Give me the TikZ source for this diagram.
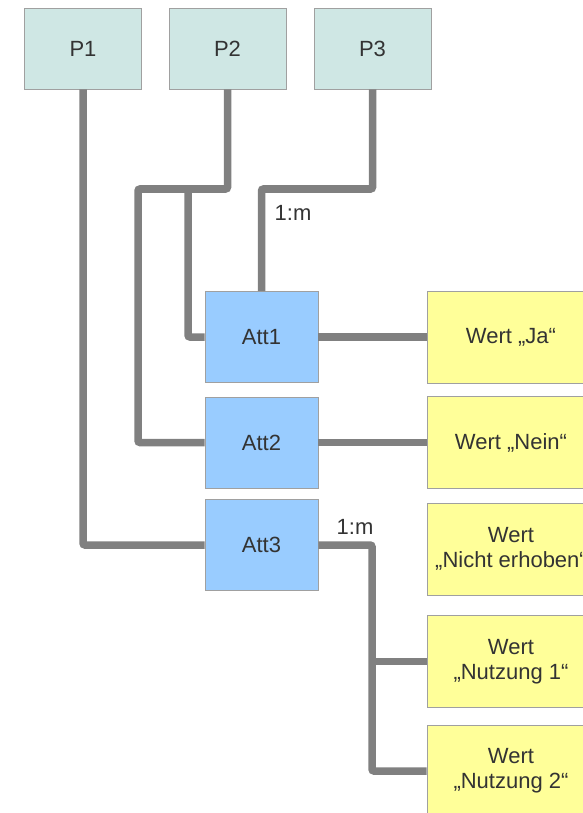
\documentclass[tikz,border=0pt]{standalone}
\usepackage{fontspec}
\setmainfont{Liberation Sans}
\definecolor{pfill}{HTML}{CFE7E4}
\definecolor{attfill}{HTML}{99CCFF}
\definecolor{wertfill}{HTML}{FFFF99}
\definecolor{rand}{HTML}{A0A0A0}
\definecolor{linie}{HTML}{808080}
\definecolor{schrift}{HTML}{333333}
\begin{document}
\begin{tikzpicture}[x=1pt,y=-1pt,
  font=\fontsize{22}{25}\selectfont,text=schrift,
  box/.style={draw=rand,line width=0.9pt,inner sep=0pt,align=center},
  pbox/.style={box,fill=pfill,minimum width=117pt,minimum height=81pt},
  attbox/.style={box,fill=attfill,minimum width=113pt,minimum height=91pt},
  wertbox/.style={box,fill=wertfill,minimum width=168pt,minimum height=92pt},
  conn/.style={draw=linie,line width=7.5pt,rounded corners=2pt},
  lbl/.style={inner sep=0pt}]
\useasboundingbox (0,0) rectangle (583,813);

\node[pbox] (p1) at (83,48.5) {P1};
\node[pbox] (p2) at (227.5,48.5) {P2};
\node[pbox] (p3) at (372.5,48.5) {P3};

\node[attbox] (att1) at (261.5,337) {Att1};
\node[attbox] (att2) at (261.5,442.5) {Att2};
\node[attbox] (att3) at (261.5,545) {Att3};

\node[wertbox] (ja) at (511,337) {Wert „Ja“};
\node[wertbox] (nein) at (511,442.5) {Wert „Nein“};
\node[wertbox] (nicht) at (511,549) {Wert\\„Nicht erhoben“};
\node[wertbox] (nutz1) at (511,661.5) {Wert\\„Nutzung 1“};
\node[wertbox] (nutz2) at (511,771) {Wert\\„Nutzung 2“};

\coordinate (bend2) at (138,189);
\coordinate (fork2) at (188,189);
\coordinate (fork3) at (372,545);

% P -> Att
\draw[conn] (p1.south) |- (att3.west);
\draw[conn] (p2.south) |- (bend2) |- (att2.west);
\draw[conn] (fork2) |- (att1.west);
\draw[conn] (p3.south) -- (p3.south |- bend2) -| (att1.north);

% Att -> Wert
\draw[conn] (att1.east) -- (ja.west);
\draw[conn] (att2.east) -- (nein.west);
\draw[conn] (att3.east) -- (fork3) |- (nutz2.west);
\draw[conn] (fork3 |- nutz1.west) -- (nutz1.west);

\node[lbl] (m1) at (293,212.5) {1:m};
\node[lbl] (m2) at (355,527) {1:m};
\end{tikzpicture}
\end{document}
